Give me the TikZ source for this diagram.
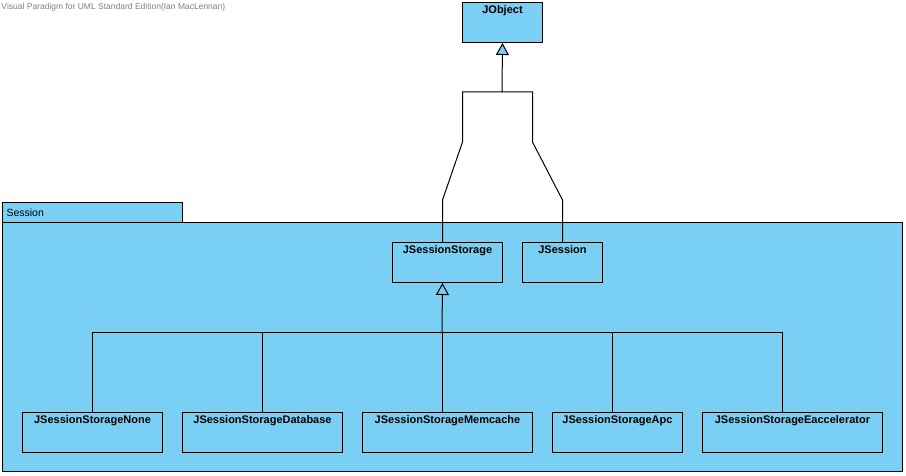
\documentclass[tikz,border=0pt]{standalone}
\usepackage{fontspec}
\setmainfont{Liberation Sans}
\usetikzlibrary{arrows.meta}
\definecolor{vpblue}{RGB}{122,207,244}

\begin{document}
\begin{tikzpicture}[
      x=1pt, y=-1pt,
      line width=1pt,
      every node/.style={inner sep=0pt},
      cls/.style={draw, fill=vpblue, anchor=north west, minimum height=40pt,
        text height=8pt, text depth=26pt, inner ysep=3pt,
        font=\fontsize{11}{13}\selectfont\bfseries},
      pkg/.style={draw, fill=vpblue, anchor=north west},
      gen/.style={-{Triangle[open, width=13pt, length=12pt]}},
      genfill/.style={-{Triangle[width=13pt, length=12pt, fill=vpblue]}}
    ]
      \useasboundingbox (0,0) rectangle (906,476);
      \node[anchor=west, text=gray, font=\fontsize{8.5}{10}\selectfont] (vp) at (1,7)
        {Visual Paradigm for UML Standard Edition(Ian MacLennan)};

      % package
      \node[pkg, minimum width=900pt, minimum height=249pt] (session) at (2,222) {};
      \node[pkg, minimum width=180pt, minimum height=20pt, text width=172pt,
        inner xsep=4pt, align=left, font=\fontsize{10.5}{12}\selectfont] (sessiontab) at (2,202) {Session};

      % classes
      \node[cls, minimum width=80pt] (jobj) at (462,2) {JObject};
      \node[cls, minimum width=110pt] (storage) at (392,242) {JSessionStorage};
      \node[cls, minimum width=80pt] (jsess) at (522,242) {JSession};
      \node[cls, minimum width=140pt] (none) at (22,412) {JSessionStorageNone};
      \node[cls, minimum width=160pt] (db) at (182,412) {JSessionStorageDatabase};
      \node[cls, minimum width=170pt] (mem) at (362,412) {JSessionStorageMemcache};
      \node[cls, minimum width=130pt] (apc) at (552,412) {JSessionStorageApc};
      \node[cls, minimum width=180pt] (eacc) at (702,412) {JSessionStorageEaccelerator};

      % generalizations to JObject
      \coordinate (topjoin) at (502,92);
      \draw[genfill] (topjoin) -- (jobj.south);
      \draw ([xshift=-5pt]storage.north) -- ++(0,-42) -- ++(20,-58) -- ++(0,-50) -- (topjoin);
      \draw (jsess.north) -- ++(0,-42) -- ++(-30,-58) -- ++(0,-50) -- (topjoin);

      % generalizations to JSessionStorage
      \coordinate (botjoin) at (442,332);
      \draw[gen] (botjoin) -- ([xshift=-5pt]storage.south);
      \foreach \n/\dx in {none/0,db/0,mem/-5,apc/-5,eacc/-10}
        \draw ([xshift=\dx pt]\n.north) |- (botjoin);
    \end{tikzpicture}
\end{document}
